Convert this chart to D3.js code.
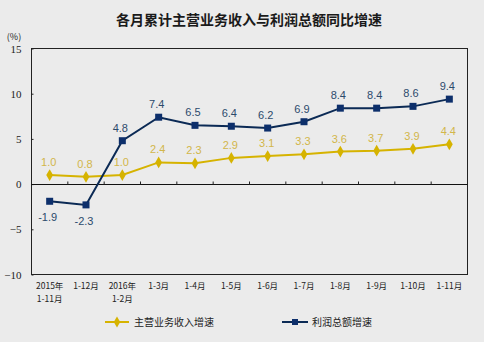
<!DOCTYPE html>
<html><head><meta charset="utf-8">
<script src="https://cdn.jsdelivr.net/npm/d3@7"></script>
<style>
html,body{margin:0;padding:0;background:#ebebeb;}
svg{display:block;}
</style></head>
<body>
<script>
const categories = [["2015年","1-11月"],["1-12月"],["2016年","1-2月"],["1-3月"],["1-4月"],["1-5月"],["1-6月"],["1-7月"],["1-8月"],["1-9月"],["1-10月"],["1-11月"]];
const revenueGrowth = [1.0,0.8,1.0,2.4,2.3,2.9,3.1,3.3,3.6,3.7,3.9,4.4];
const profitGrowth = [-1.9,-2.3,4.8,7.4,6.5,6.4,6.2,6.9,8.4,8.4,8.6,9.4];
const yTicks = [-10,-5,0,5,10,15];
const seriesNames = ["主营业务收入增速","利润总额增速"];
const chartTitle = "各月累计主营业务收入与利润总额同比增速";

(function(){
const W=484,H=342;
const svg=d3.select("body").append("svg").attr("width",W).attr("height",H);
svg.append("rect").attr("width",W).attr("height",H).attr("fill","#ebebeb");

const pL=31.5,pR=467.5,pT=48.5,pB=274.5;
const x=d3.scaleBand().domain(d3.range(categories.length)).range([pL,pR]);
const y=d3.scaleLinear().domain([-10,15]).range([pB,pT]);
const cx=i=>x(i)+x.bandwidth()/2;

svg.append("text").attr("x",249).attr("y",25).attr("text-anchor","middle")
  .attr("font-family","Noto Sans CJK SC").attr("font-weight","bold").attr("font-size",14)
  .attr("fill","#1a1a1a").text(chartTitle);

svg.append("text").attr("x",14).attr("y",40).attr("text-anchor","middle")
  .attr("font-family","Noto Sans CJK SC").attr("font-size",9).attr("fill","#222").text("(%)");

// frame
svg.append("rect").attr("x",pL).attr("y",pT).attr("width",pR-pL).attr("height",pB-pT)
  .attr("fill","none").attr("stroke","#222").attr("stroke-width",1);

// y axis
const yAxis=d3.axisLeft(y).tickValues(yTicks).tickSize(-2).tickPadding(10).tickFormat(d3.format("d"));
const ya=svg.append("g").attr("transform",`translate(${pL},0)`).call(yAxis);
ya.select(".domain").remove();
ya.selectAll("line").attr("stroke","#222");
ya.selectAll("text").attr("font-family","Liberation Serif").attr("font-size",11).attr("fill","#222");

// zero line with ticks
const y0=Math.round(y(0))+0.5;
svg.append("line").attr("x1",pL).attr("x2",pR).attr("y1",y0).attr("y2",y0)
  .attr("stroke","#111").attr("stroke-width",1.2);
svg.append("g").selectAll("line").data(d3.range(1,categories.length)).join("line")
  .attr("x1",i=>x(i)).attr("x2",i=>x(i)).attr("y1",y0-3).attr("y2",y0)
  .attr("stroke","#222");

// x labels
const xAxis=d3.axisBottom(x).tickSize(0).tickFormat("");
const xl=svg.append("g").attr("transform",`translate(0,${pB})`).call(xAxis);
xl.select(".domain").remove();
xl.selectAll(".tick").each(function(i){
  const t=d3.select(this).select("text").attr("y",0).attr("dy",null)
    .attr("font-family","Noto Sans CJK SC").attr("font-size",8.5).attr("fill","#222");
  t.text(null);
  categories[i].forEach((s,k)=>t.append("tspan").attr("x",0).attr("y",14+k*13).text(s));
});

const gold="#d6b300", goldText="#d2b64a", blue="#0d2f6b", blueLine="#0b2a55", blueText="#2c4a6b";
const lineGen=d3.line().x((d,i)=>cx(i)).y(d=>y(d));

// revenue
svg.append("path").datum(revenueGrowth).attr("d",lineGen).attr("fill","none").attr("stroke",gold).attr("stroke-width",2);
svg.append("g").selectAll("path").data(revenueGrowth).join("path")
  .attr("d",d3.symbol(d3.symbolDiamond,40)).attr("transform",(d,i)=>`translate(${cx(i)},${y(d)})`).attr("fill",gold);
svg.append("g").selectAll("text").data(revenueGrowth).join("text")
  .attr("x",(d,i)=>cx(i)-1).attr("y",d=>y(d)-9).attr("text-anchor","middle")
  .attr("font-family","Liberation Sans").attr("font-size",11).attr("fill",goldText).text(d=>d.toFixed(1));

// profit
svg.append("path").datum(profitGrowth).attr("d",lineGen).attr("fill","none").attr("stroke",blueLine).attr("stroke-width",2);
svg.append("g").selectAll("rect").data(profitGrowth).join("rect")
  .attr("x",(d,i)=>cx(i)-3.5).attr("y",d=>y(d)-3.5).attr("width",7).attr("height",7).attr("fill",blue);
svg.append("g").selectAll("text").data(profitGrowth).join("text")
  .attr("x",(d,i)=>cx(i)-2).attr("y",(d,i)=>i<2?y(d)+20:y(d)-9).attr("text-anchor","middle")
  .attr("font-family","Liberation Sans").attr("font-size",11).attr("fill",blueText).text(d=>d.toFixed(1));

// legend
const lg=svg.append("g");
lg.append("line").attr("x1",105).attr("x2",129).attr("y1",322).attr("y2",322).attr("stroke",gold).attr("stroke-width",2);
lg.append("path").attr("d",d3.symbol(d3.symbolDiamond,36)).attr("transform","translate(117,322)").attr("fill",gold);
lg.append("text").attr("x",134).attr("y",326).attr("font-family","Noto Sans CJK SC").attr("font-size",10).attr("fill","#222").text(seriesNames[0]);
lg.append("line").attr("x1",282).attr("x2",308).attr("y1",322).attr("y2",322).attr("stroke",blueLine).attr("stroke-width",2);
lg.append("rect").attr("x",292).attr("y",319).attr("width",6).attr("height",6).attr("fill",blue);
lg.append("text").attr("x",312).attr("y",326).attr("font-family","Noto Sans CJK SC").attr("font-size",10).attr("fill","#222").text(seriesNames[1]);
})();
</script>
</body></html>
